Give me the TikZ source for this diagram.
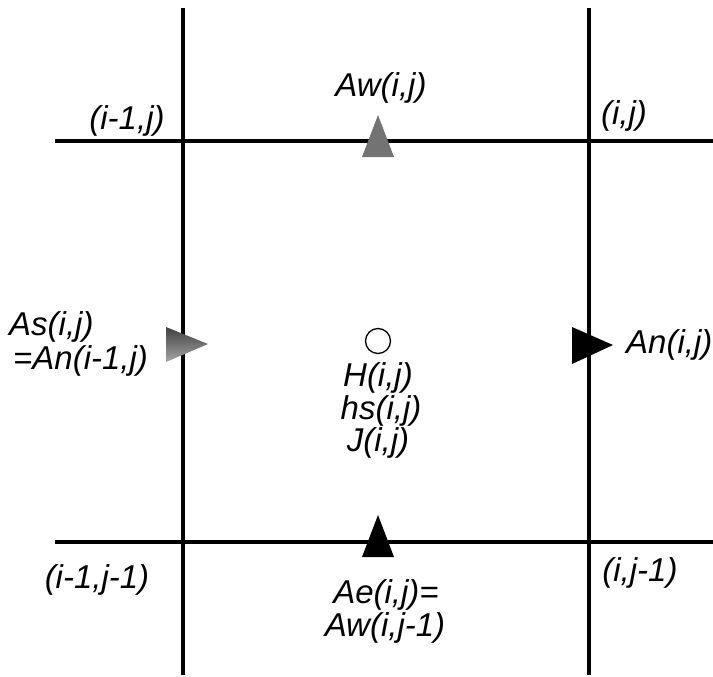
\documentclass[tikz,border=0pt]{standalone}
\usepackage{fontspec}
\setmainfont{Liberation Sans}
\tikzset{
  gridline/.style={line width=3.5pt, black},
  lbl/.style={font=\fontsize{33}{38}\selectfont\itshape, inner sep=0pt},
}
\begin{document}
\begin{tikzpicture}[x=1pt, y=-1pt, line join=miter]
  \useasboundingbox (0,0) rectangle (713,677);
  % grid
  \coordinate (V1t) at (183,8);   \coordinate (V1b) at (183,675);
  \coordinate (V2t) at (589,8);   \coordinate (V2b) at (589,675);
  \coordinate (H1l) at (55,141);  \coordinate (H1r) at (713,141);
  \coordinate (H2l) at (55,542);  \coordinate (H2r) at (713,542);
  \draw[gridline] (V1t) -- (V1b);
  \draw[gridline] (V2t) -- (V2b);
  \draw[gridline] (H1l) -- (H1r);
  \draw[gridline] (H2l) -- (H2r);
  % flux arrows
  \fill[black!55] (362,157) -- (378,115) -- (394,157) -- cycle;
  \fill[black] (362,557) -- (378,515) -- (394,557) -- cycle;
  \shade[top color=black!75, bottom color=black!35] (166,327) -- (208,344) -- (166,362) -- cycle;
  \fill[black] (572,327) -- (613,345) -- (572,364) -- cycle;
  % cell centre
  \draw[line width=1.3pt] (378,341) circle (12.5);
  % labels
  \node[lbl] (aw) at (381,88) {Aw(i,j)};
  \node[lbl] (nw) at (127,121) {(i-1,j)};
  \node[lbl] (ne) at (624,116) {(i,j)};
  \node[lbl, anchor=west] (as) at (9,327) {As(i,j)};
  \node[lbl, anchor=west] (asn) at (13,361) {=An(i-1,j)};
  \node[lbl, anchor=west] (an) at (626,345) {An(i,j)};
  \node[lbl] (h) at (378,378) {H(i,j)};
  \node[lbl] (hs) at (381,411) {hs(i,j)};
  \node[lbl] (jj) at (378,443) {J(i,j)};
  \node[lbl] (sw) at (97,580) {(i-1,j-1)};
  \node[lbl] (se) at (640,573) {(i,j-1)};
  \node[lbl] (ae) at (386,595) {Ae(i,j)=};
  \node[lbl] (aws) at (385,628) {Aw(i,j-1)};
\end{tikzpicture}
\end{document}
